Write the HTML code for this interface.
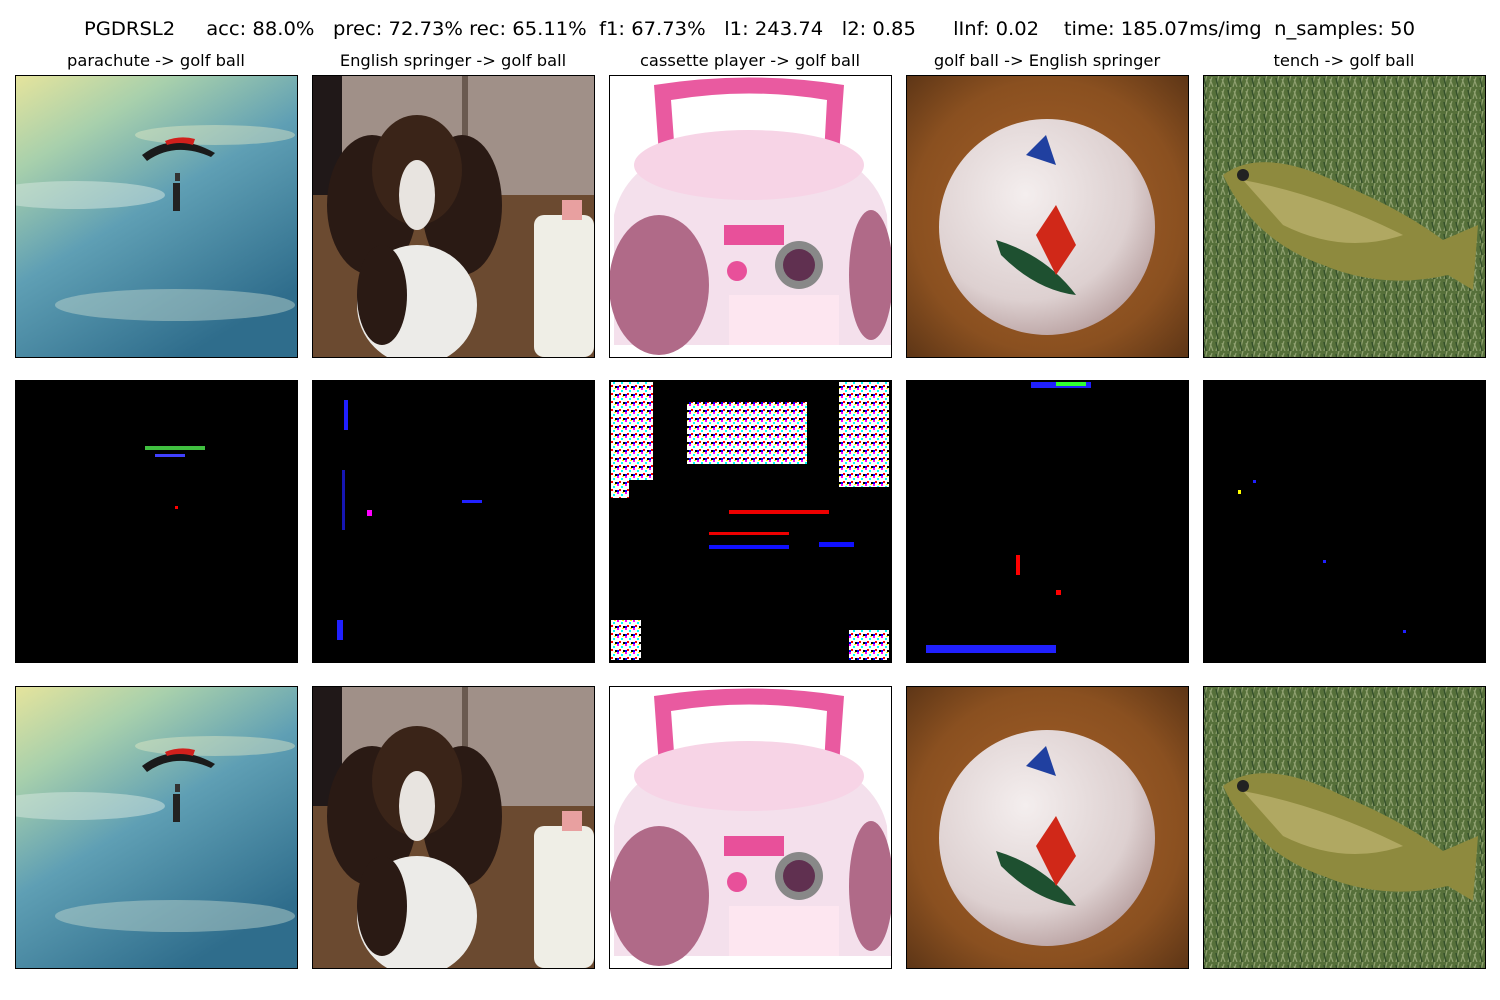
<!DOCTYPE html>
<html><head><meta charset="utf-8"><style>
body{margin:0;background:#fff;width:1500px;height:1000px;overflow:hidden}
svg{display:block;font-family:"DejaVu Sans","Liberation Sans",sans-serif}
</style></head><body>
<svg width="1500" height="1000" viewBox="0 0 1500 1000">
<defs>
<clipPath id="clip"><rect width="282" height="282"/></clipPath>
<linearGradient id="sky" x1="0" y1="0" x2="0.6" y2="1">
<stop offset="0" stop-color="#e6e49c"/><stop offset="0.25" stop-color="#a8d0ac"/><stop offset="0.55" stop-color="#5f9fb4"/><stop offset="1" stop-color="#2f6d8c"/></linearGradient>
<radialGradient id="golfbg" cx="0.5" cy="0.5" r="0.8"><stop offset="0" stop-color="#a8622a"/><stop offset="0.6" stop-color="#8a5020"/><stop offset="1" stop-color="#4a2a12"/></radialGradient>
<radialGradient id="ball" cx="0.4" cy="0.35" r="0.7"><stop offset="0" stop-color="#f4eeee"/><stop offset="0.7" stop-color="#ddd0d0"/><stop offset="1" stop-color="#b8a0a0"/></radialGradient>
<pattern id="grass" width="12" height="12" patternUnits="userSpaceOnUse"><rect width="12" height="12" fill="#56703a"/><path d="M1 12 L4 0 M6 12 L9 2 M10 12 L7 4" stroke="#8fa070" stroke-width="1.2"/><path d="M3 12 L1 3" stroke="#34502a" stroke-width="1.5"/></pattern>
<pattern id="noise" width="8" height="8" patternUnits="userSpaceOnUse"><rect width="8" height="8" fill="#fff"/><rect x="0" y="0" width="2" height="2" fill="#f0f"/><rect x="4" y="2" width="2" height="2" fill="#0ff"/><rect x="2" y="5" width="2" height="2" fill="#f00"/><rect x="6" y="6" width="2" height="2" fill="#000"/><rect x="5" y="0" width="2" height="1" fill="#ff0"/><rect x="0" y="6" width="2" height="2" fill="#00f"/></pattern>
<g id="p-para"><rect width="282" height="282" fill="url(#sky)"/>
<ellipse cx="60" cy="120" rx="90" ry="14" fill="#d8e8e0" opacity="0.5"/><ellipse cx="160" cy="230" rx="120" ry="16" fill="#c8dcd0" opacity="0.45"/><ellipse cx="200" cy="60" rx="80" ry="10" fill="#f0f0c8" opacity="0.4"/>
<path d="M127 80 Q160 55 200 78 L196 82 Q160 66 132 86Z" fill="#1a1a1a"/><path d="M150 66 Q165 60 180 64 L178 70 Q165 66 152 70Z" fill="#d0201c"/>
<rect x="158" y="108" width="7" height="28" fill="#222"/><rect x="160" y="98" width="5" height="8" fill="#333"/></g>
<g id="p-dog"><rect width="282" height="282" fill="#6e5240"/><rect width="282" height="120" fill="#a09088"/><rect width="30" height="120" fill="#201818"/><rect x="150" y="0" width="6" height="120" fill="#6a5a50"/><rect y="120" width="282" height="162" fill="#6b4a30"/>
<ellipse cx="60" cy="130" rx="45" ry="70" fill="#2a1a14"/><ellipse cx="150" cy="130" rx="40" ry="70" fill="#2a1a14"/><ellipse cx="105" cy="95" rx="45" ry="55" fill="#3a2418"/>
<ellipse cx="105" cy="120" rx="18" ry="35" fill="#e8e4e0"/><ellipse cx="105" cy="230" rx="60" ry="60" fill="#ecebe8"/><ellipse cx="70" cy="220" rx="25" ry="50" fill="#2a1a14"/>
<rect x="222" y="140" width="60" height="142" rx="10" fill="#efeee6"/><rect x="250" y="125" width="20" height="20" fill="#e8a0a0"/></g>
<g id="p-cas"><rect width="282" height="282" fill="#fff"/>
<path d="M50 80 L45 10 Q140 -5 235 10 L230 80 L215 80 L218 25 Q140 12 62 25 L66 80Z" fill="#e95aa0"/>
<path d="M5 140 Q20 70 140 60 Q262 70 278 140 L282 270 L5 270Z" fill="#f4e0ec"/><ellipse cx="140" cy="90" rx="115" ry="35" fill="#f7d4e6"/>
<ellipse cx="50" cy="210" rx="50" ry="70" fill="#b06a88"/><ellipse cx="262" cy="200" rx="22" ry="65" fill="#b06a88"/>
<rect x="115" y="150" width="60" height="20" fill="#e8509a"/><circle cx="190" cy="190" r="24" fill="#888"/><circle cx="190" cy="190" r="16" fill="#603050"/><circle cx="128" cy="196" r="10" fill="#e8509a"/><rect x="120" y="220" width="110" height="50" fill="#fde6f0"/></g>
<g id="p-golf"><rect width="282" height="282" fill="url(#golfbg)"/><circle cx="141" cy="152" r="108" fill="url(#ball)"/>
<path d="M90 165 Q140 180 170 220 Q130 215 95 180Z" fill="#1e5030"/><path d="M130 160 L150 130 L170 170 L150 200Z" fill="#d02818"/><path d="M120 80 L140 60 L150 90Z" fill="#2040a0"/></g>
<g id="p-tench"><rect width="282" height="282" fill="url(#grass)"/>
<path d="M20 100 Q60 70 140 110 Q200 135 240 165 L275 150 L270 215 L245 200 Q180 215 120 190 Q50 165 20 100Z" fill="#8e8a3e"/><path d="M40 105 Q120 120 200 160 Q140 180 80 150Z" fill="#b0a862"/><circle cx="40" cy="100" r="6" fill="#222"/></g>
</defs>

<text x="749.5" y="35" text-anchor="middle" font-size="19" textLength="1331" lengthAdjust="spacingAndGlyphs" xml:space="preserve">PGDRSL2     acc: 88.0%   prec: 72.73% rec: 65.11%  f1: 67.73%   l1: 243.74   l2: 0.85      lInf: 0.02    time: 185.07ms/img  n_samples: 50</text>

<text x="156" y="66" text-anchor="middle" font-size="16.3">parachute -&gt; golf ball</text>
<text x="453" y="66" text-anchor="middle" font-size="16.3">English springer -&gt; golf ball</text>
<text x="750" y="66" text-anchor="middle" font-size="16.3">cassette player -&gt; golf ball</text>
<text x="1047" y="66" text-anchor="middle" font-size="16.3">golf ball -&gt; English springer</text>
<text x="1344" y="66" text-anchor="middle" font-size="16.3">tench -&gt; golf ball</text>

<g transform="translate(15,75)"><g clip-path="url(#clip)"><use href="#p-para"/></g></g>
<g transform="translate(312,75)"><g clip-path="url(#clip)"><use href="#p-dog"/></g></g>
<g transform="translate(609,75)"><g clip-path="url(#clip)"><use href="#p-cas"/></g></g>
<g transform="translate(906,75)"><g clip-path="url(#clip)"><use href="#p-golf"/></g></g>
<g transform="translate(1203,75)"><g clip-path="url(#clip)"><use href="#p-tench"/></g></g>

<g transform="translate(15,380)"><rect width="282" height="282" fill="#000"/><rect x="130" y="66" width="60" height="4" fill="#40c040"/><rect x="140" y="74" width="30" height="3" fill="#4040ff"/><rect x="160" y="126" width="3" height="3" fill="#f00"/></g>
<g transform="translate(312,380)"><rect width="282" height="282" fill="#000"/><rect x="32" y="20" width="4" height="30" fill="#2020ff"/><rect x="30" y="90" width="3" height="60" fill="#2020ff" opacity="0.7"/><rect x="55" y="130" width="5" height="6" fill="#f0f"/><rect x="25" y="240" width="6" height="20" fill="#2020ff"/><rect x="150" y="120" width="20" height="3" fill="#2020ff"/></g>
<g transform="translate(609,380)"><rect width="282" height="282" fill="#000"/><rect x="2" y="2" width="42" height="98" fill="url(#noise)"/><rect x="2" y="100" width="18" height="18" fill="url(#noise)"/><rect x="78" y="22" width="120" height="62" fill="url(#noise)"/><rect x="230" y="2" width="50" height="105" fill="url(#noise)"/><rect x="2" y="240" width="30" height="40" fill="url(#noise)"/><rect x="240" y="250" width="40" height="30" fill="url(#noise)"/><rect x="120" y="130" width="100" height="4" fill="#e00"/><rect x="100" y="152" width="80" height="3" fill="#e00"/><rect x="100" y="165" width="80" height="4" fill="#1010ff"/><rect x="210" y="162" width="35" height="5" fill="#1010ff"/></g>
<g transform="translate(906,380)"><rect width="282" height="282" fill="#000"/><rect x="125" y="2" width="60" height="6" fill="#2020ff"/><rect x="150" y="2" width="30" height="4" fill="#30ff30"/><rect x="110" y="175" width="4" height="20" fill="#f00"/><rect x="20" y="265" width="130" height="8" fill="#2020ff"/><rect x="150" y="210" width="5" height="5" fill="#f00"/></g>
<g transform="translate(1203,380)"><rect width="282" height="282" fill="#000"/><rect x="35" y="110" width="3" height="4" fill="#ff0"/><rect x="50" y="100" width="3" height="3" fill="#2020ff"/><rect x="120" y="180" width="3" height="3" fill="#2020ff"/><rect x="200" y="250" width="3" height="3" fill="#2020ff"/></g>

<g transform="translate(15,686)"><g clip-path="url(#clip)"><use href="#p-para"/></g></g>
<g transform="translate(312,686)"><g clip-path="url(#clip)"><use href="#p-dog"/></g></g>
<g transform="translate(609,686)"><g clip-path="url(#clip)"><use href="#p-cas"/></g></g>
<g transform="translate(906,686)"><g clip-path="url(#clip)"><use href="#p-golf"/></g></g>
<g transform="translate(1203,686)"><g clip-path="url(#clip)"><use href="#p-tench"/></g></g>

<g fill="none" stroke="#000" stroke-width="1">
<rect x="15.5" y="75.5" width="282" height="282"/><rect x="312.5" y="75.5" width="282" height="282"/><rect x="609.5" y="75.5" width="282" height="282"/><rect x="906.5" y="75.5" width="282" height="282"/><rect x="1203.5" y="75.5" width="282" height="282"/>
<rect x="15.5" y="380.5" width="282" height="282"/><rect x="312.5" y="380.5" width="282" height="282"/><rect x="609.5" y="380.5" width="282" height="282"/><rect x="906.5" y="380.5" width="282" height="282"/><rect x="1203.5" y="380.5" width="282" height="282"/>
<rect x="15.5" y="686.5" width="282" height="282"/><rect x="312.5" y="686.5" width="282" height="282"/><rect x="609.5" y="686.5" width="282" height="282"/><rect x="906.5" y="686.5" width="282" height="282"/><rect x="1203.5" y="686.5" width="282" height="282"/>
</g>
</svg>
</body></html>
